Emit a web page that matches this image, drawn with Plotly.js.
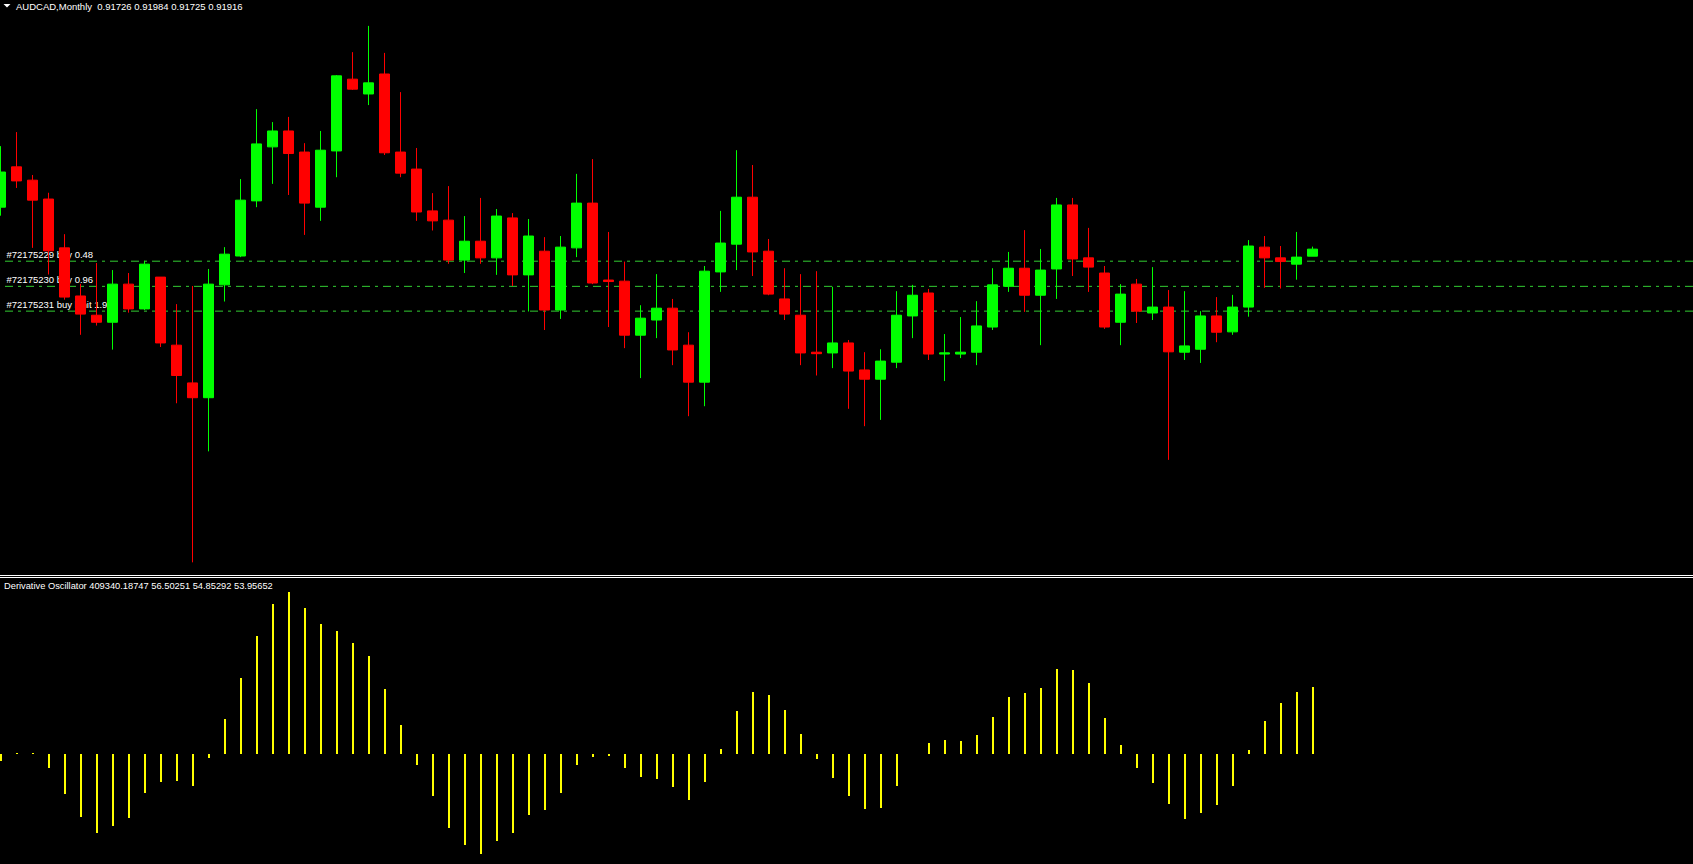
<!DOCTYPE html>
<html>
<head>
<meta charset="utf-8">
<script src="https://cdn.plot.ly/plotly-3.0.1.min.js"></script>
<style>
  html, body { margin: 0; padding: 0; background: #000; overflow: hidden; }
  #chart { width: 1693px; height: 864px; }
</style>
</head>
<body>
<div id="chart"></div>
<script>
// ---------------- data ----------------
const symbol = "AUDCAD";
const timeframe = "Monthly";

const openP = [0.9305,0.9414,0.9378,0.9327,0.9195,0.9065,0.9013,0.8994,0.9097,0.9030,
  0.9116,0.8932,0.8830,0.8790,0.9095,0.9173,0.9322,0.9468,0.9511,0.9454,
  0.9305,0.9457,0.9651,0.9611,0.9665,0.9454,0.9408,0.9295,0.9270,0.9162,
  0.9213,0.9168,0.9276,0.9122,0.9186,0.9027,0.9195,0.9316,0.9108,0.9105,
  0.8959,0.9000,0.9032,0.8932,0.8832,0.9130,0.9205,0.9332,0.9186,0.9057,
  0.9013,0.8913,0.8911,0.8938,0.8865,0.8840,0.8886,0.9011,0.9073,0.8908,
  0.8908,0.8913,0.8981,0.9091,0.9140,0.9067,0.9138,0.9311,0.9168,0.9127,
  0.8994,0.9097,0.9019,0.9035,0.8913,0.8921,0.9011,0.8968,0.9035,0.9197,
  0.9168,0.9151,0.91726];
const highP = [0.9470,0.9508,0.9392,0.9344,0.9232,0.9098,0.9154,0.9135,0.9127,0.9160,
  0.9116,0.9043,0.9092,0.9138,0.9197,0.9381,0.9570,0.9535,0.9549,0.9478,
  0.9511,0.9662,0.9724,0.9795,0.9722,0.9616,0.9465,0.9343,0.9362,0.9281,
  0.9330,0.9300,0.9289,0.9273,0.9224,0.9227,0.9395,0.9435,0.9238,0.9158,
  0.9040,0.9124,0.9057,0.8967,0.9146,0.9295,0.9459,0.9419,0.9219,0.9140,
  0.9124,0.9132,0.9090,0.8946,0.8913,0.8921,0.9078,0.9095,0.9084,0.8962,
  0.9008,0.9051,0.9140,0.9184,0.9243,0.9192,0.9330,0.9330,0.9249,0.9146,
  0.9097,0.9111,0.9143,0.9081,0.9078,0.9024,0.9062,0.9068,0.9216,0.9227,
  0.9200,0.9238,0.91984];
const lowP = [0.9282,0.9357,0.9195,0.9123,0.9055,0.8960,0.8985,0.8920,0.9020,0.9027,
  0.8927,0.8775,0.8345,0.8645,0.9050,0.9170,0.9305,0.9368,0.9338,0.9230,
  0.9268,0.9386,0.9622,0.9581,0.9446,0.9386,0.9268,0.9242,0.9152,0.9127,
  0.9152,0.9122,0.9092,0.9023,0.8973,0.9003,0.9170,0.9097,0.8981,0.8924,
  0.8843,0.8951,0.8878,0.8740,0.8767,0.9076,0.9135,0.9119,0.9067,0.9000,
  0.8878,0.8850,0.8870,0.8760,0.8713,0.8730,0.8870,0.8951,0.8892,0.8835,
  0.8897,0.8878,0.8973,0.9076,0.9022,0.8932,0.9057,0.9119,0.9076,0.8976,
  0.8932,0.8992,0.9000,0.8622,0.8892,0.8884,0.8940,0.8960,0.9009,0.9087,
  0.9085,0.9109,0.91725];
const closeP = [0.9400,0.9376,0.9324,0.9187,0.9062,0.9016,0.8994,0.9097,0.9030,0.9151,
  0.8938,0.8850,0.8790,0.9097,0.9178,0.9324,0.9476,0.9511,0.9450,0.9316,
  0.9459,0.9660,0.9624,0.9641,0.9452,0.9397,0.9292,0.9268,0.9162,0.9213,
  0.9168,0.9281,0.9122,0.9227,0.9027,0.9197,0.9316,0.9100,0.9104,0.8959,
  0.9005,0.9032,0.8919,0.8832,0.9132,0.9208,0.9332,0.9184,0.9070,0.9016,
  0.8911,0.8909,0.8938,0.8862,0.8840,0.8889,0.9013,0.9067,0.8908,0.8911,
  0.8913,0.8984,0.9095,0.9140,0.9067,0.9135,0.9311,0.9165,0.9143,0.8981,
  0.9070,0.9024,0.9035,0.8914,0.8930,0.9011,0.8967,0.9035,0.9200,0.9168,
  0.9158,0.9170,0.91916];

// Derivative Oscillator histogram
const oscValues = [-0.20,0.02,0.02,-0.41,-1.19,-1.88,-2.36,-2.15,-1.91,-1.16,
  -0.83,-0.80,-0.95,-0.11,1.05,2.27,3.54,4.50,4.85,4.37,
  3.90,3.69,3.33,2.94,1.95,0.87,-0.32,-1.25,-2.21,-2.72,
  -2.99,-2.60,-2.36,-1.82,-1.67,-1.16,-0.32,-0.08,-0.05,-0.41,
  -0.68,-0.74,-0.98,-1.37,-0.83,0.15,1.29,1.86,1.77,1.32,
  0.60,-0.14,-0.71,-1.25,-1.64,-1.61,-0.95,-0.01,0.33,0.42,
  0.39,0.57,1.11,1.71,1.83,1.98,2.55,2.52,2.13,1.08,
  0.27,-0.41,-0.86,-1.49,-1.94,-1.76,-1.52,-0.95,0.12,0.99,
  1.53,1.86,2.01];
const oscName = "Derivative Oscillator";
const oscLegendValues = ["409340.18747", "56.50251", "54.85292", "53.95652"];

// open orders
const orderIds = ["#72175229", "#72175230", "#72175231"];
const orderTypes = ["buy", "buy", "buy limit"];
const orderLots = ["0.48", "0.96", "1.92"];
const orderPrices = [0.9159, 0.9091, 0.9024];

// ---------------- build ----------------
const W = 1693, H = 864;
const idx = openP.map((_, i) => i);
const pxPerBar = 16;
const xRange = [-0.5 / pxPerBar, (W - 0.5) / pxPerBar];

const mainTopPx = 0, mainBotPx = 575;
const priceTop = 0.9865, pxPerPrice = 3699.6;
const priceBot = priceTop - (mainBotPx - mainTopPx) / pxPerPrice;

const oscTopPx = 585, oscZeroPx = 754, pxPerOsc = 33.333;
const oscRange = [-(H - oscZeroPx) / pxPerOsc, (oscZeroPx - oscTopPx) / pxPerOsc];

const px2x = p => p / W;
const py2y = p => 1 - p / H;
const font = "Liberation Sans, Arial, sans-serif";

const traces = [];

// order lines (behind candles)
orderPrices.forEach((p) => {
  traces.push({
    type: "scatter", mode: "lines", x: [xRange[0] - 1, xRange[1] + 1], y: [p, p],
    xaxis: "x", yaxis: "y", hoverinfo: "skip", showlegend: false,
    line: { color: "#32CD32", width: 1, dash: "8px,5px,3px,5px" }
  });
});
// order labels (behind candles)
traces.push({
  type: "scatter", mode: "text",
  x: orderPrices.map(() => 6.5 / pxPerBar - 0.03),
  y: orderPrices.map(p => p + 6 / pxPerPrice),
  text: orderIds.map((id, i) => id + " " + orderTypes[i] + " " + orderLots[i]),
  textposition: "middle right",
  textfont: { family: font, size: 9.5, color: "#FFFFFF" },
  xaxis: "x", yaxis: "y", hoverinfo: "skip", showlegend: false, cliponaxis: false
});

// candles on overlay axis (on top)
traces.push({
  type: "candlestick", x: idx, open: openP, high: highP, low: lowP, close: closeP,
  xaxis: "x", yaxis: "y3", showlegend: false, hoverinfo: "skip",
  whiskerwidth: 0,
  increasing: { line: { color: "#00FF00", width: 1 }, fillcolor: "#00FF00" },
  decreasing: { line: { color: "#FF0000", width: 1 }, fillcolor: "#FF0000" }
});

// oscillator histogram
traces.push({
  type: "bar", x: idx, y: oscValues, xaxis: "x2", yaxis: "y2",
  width: 2 / pxPerBar, marker: { color: "#FFFF00", line: { width: 0 } },
  showlegend: false, hoverinfo: "skip"
});

const hidden = { visible: false, showgrid: false, zeroline: false, showticklabels: false, fixedrange: true };

const header = symbol + "," + timeframe + "\u00a0\u00a0" +
  [openP, highP, lowP, closeP].map(a => a[a.length - 1].toFixed(5)).join(" ");
const oscHeader = oscName + " " + oscLegendValues.join(" ");

const layout = {
  width: W, height: H, autosize: false,
  margin: { l: 0, r: 0, t: 0, b: 0, pad: 0 },
  paper_bgcolor: "#000000", plot_bgcolor: "#000000",
  showlegend: false, boxgap: 0.375, boxgroupgap: 0, bargap: 0,
  xaxis: Object.assign({}, hidden, { domain: [0, 1], range: xRange, anchor: "y", rangeslider: { visible: false } }),
  yaxis: Object.assign({}, hidden, { domain: [py2y(mainBotPx), py2y(mainTopPx)], range: [priceBot, priceTop], anchor: "x" }),
  yaxis3: Object.assign({}, hidden, { overlaying: "y", range: [priceBot, priceTop], anchor: "x" }),
  xaxis2: Object.assign({}, hidden, { domain: [0, 1], range: xRange, anchor: "y2" }),
  yaxis2: Object.assign({}, hidden, { domain: [0, py2y(oscTopPx)], range: oscRange, anchor: "x2" }),
  shapes: [
    { type: "line", xref: "paper", yref: "paper", x0: 0, x1: 1, y0: py2y(575.5), y1: py2y(575.5),
      line: { color: "#FFFFFF", width: 1 } },
    { type: "line", xref: "paper", yref: "paper", x0: 0, x1: 1, y0: py2y(577.5), y1: py2y(577.5),
      line: { color: "#FFFFFF", width: 1 } },
    { type: "path", xref: "paper", yref: "paper",
      path: "M " + px2x(3.5) + "," + py2y(4) + " L " + px2x(10.5) + "," + py2y(4) + " L " + px2x(7) + "," + py2y(7.5) + " Z",
      fillcolor: "#FFFFFF", line: { width: 0 } }
  ],
  annotations: [
    { xref: "paper", yref: "paper", x: px2x(13.5), y: py2y(6.5), xanchor: "left", yanchor: "middle",
      text: header, showarrow: false, font: { family: font, size: 9.5, color: "#FFFFFF" } },
    { xref: "paper", yref: "paper", x: px2x(2), y: py2y(585.5), xanchor: "left", yanchor: "middle",
      text: oscHeader, showarrow: false, font: { family: font, size: 9.3, color: "#FFFFFF" } }
  ]
};

Plotly.newPlot("chart", traces, layout, { staticPlot: true, displayModeBar: false });
</script>
</body>
</html>
